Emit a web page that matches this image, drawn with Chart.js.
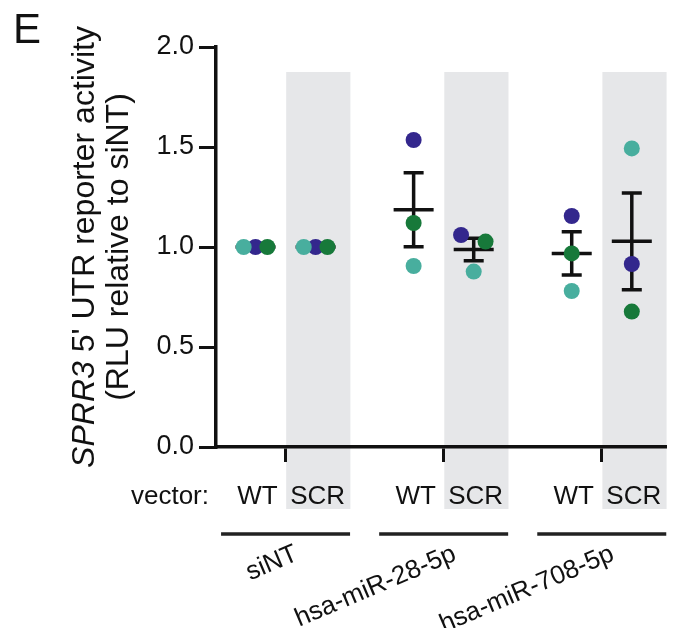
<!DOCTYPE html>
<html>
<head>
<meta charset="utf-8">
<script src="https://cdn.jsdelivr.net/npm/chart.js@4.4.0/dist/chart.umd.min.js"></script>
<style>
  html, body { margin: 0; padding: 0; background: #fff; }
  #wrap { width: 673px; height: 628px; }
</style>
</head>
<body>
<div id="wrap"><canvas id="chart" width="673" height="628"></canvas></div>
<script>
const groups = ['siNT', 'hsa-miR-28-5p', 'hsa-miR-708-5p'];
const vectors = ['WT', 'SCR'];
const yTicks = [0, 0.5, 1.0, 1.5, 2.0];

// one value per condition: siNT WT, siNT SCR, miR-28 WT, miR-28 SCR, miR-708 WT, miR-708 SCR
const rep1 = [1.00, 1.00, 0.905, 0.877, 0.78, 1.493];  // teal
const rep2 = [1.00, 1.00, 1.535, 1.06, 1.155, 0.915];  // purple
const rep3 = [1.00, 1.00, 1.12, 1.027, 0.968, 0.677];  // green

// sideways nudge for dots that would overlap (x units)
const nudge1 = [-0.075, -0.075, 0, 0, 0, 0];
const nudge2 = [0, 0, 0, -0.08, 0, 0];
const nudge3 = [0.075, 0.075, 0, 0.075, 0, 0];

const FONT = '"Liberation Sans", Arial, Helvetica, sans-serif';
const VEC_OFF = 0.19;
const INK = '#111';

function conditionX(i) {
  return Math.floor(i / 2) + (i % 2 ? VEC_OFF : -VEC_OFF);
}

function points(vals, nudge) {
  return vals.map((v, i) => ({ x: conditionX(i) + nudge[i], y: v }));
}

// mean +/- SEM of the three replicates
function stats(i) {
  const v = [rep1[i], rep2[i], rep3[i]];
  const m = v.reduce((a, b) => a + b, 0) / v.length;
  const sd = Math.sqrt(v.reduce((a, b) => a + (b - m) * (b - m), 0) / (v.length - 1));
  return { mean: m, sem: sd / Math.sqrt(v.length) };
}

const decor = {
  id: 'decor',
  beforeDraw(chart) {
    // grey bands behind the SCR columns
    const xs = chart.scales.x, ys = chart.scales.y, ctx = chart.ctx;
    ctx.save();
    ctx.fillStyle = '#e6e7e9';
    groups.forEach((g, gi) => {
      const x0 = xs.getPixelForValue(gi + 0.004);
      const x1 = xs.getPixelForValue(gi + 0.41);
      const y0 = ys.getPixelForValue(1.875);
      const y1 = chart.chartArea.bottom + 62;
      ctx.fillRect(x0, y0, x1 - x0, y1 - y0);
    });
    ctx.restore();
  },
  beforeDatasetsDraw(chart) {
    // mean and SEM bars
    const xs = chart.scales.x, ys = chart.scales.y, ctx = chart.ctx;
    ctx.save();
    ctx.strokeStyle = INK;
    ctx.lineWidth = 3.5;
    rep1.forEach((_, i) => {
      const s = stats(i);
      const cx = xs.getPixelForValue(conditionX(i));
      const ym = ys.getPixelForValue(s.mean);
      const yt = ys.getPixelForValue(s.mean + s.sem);
      const yb = ys.getPixelForValue(s.mean - s.sem);
      ctx.beginPath();
      ctx.moveTo(cx - 20, ym); ctx.lineTo(cx + 20, ym);
      ctx.moveTo(cx, yt); ctx.lineTo(cx, yb);
      ctx.moveTo(cx - 10, yt); ctx.lineTo(cx + 10, yt);
      ctx.moveTo(cx - 10, yb); ctx.lineTo(cx + 10, yb);
      ctx.stroke();
    });
    ctx.restore();
  },
  afterDraw(chart) {
    const xs = chart.scales.x, ctx = chart.ctx;
    const area = chart.chartArea;
    ctx.save();
    ctx.fillStyle = INK;

    // panel letter
    ctx.font = '42px ' + FONT;
    ctx.textAlign = 'left';
    ctx.textBaseline = 'alphabetic';
    ctx.fillText('E', 13, 43);

    // y title, first part italic
    const cy = (area.top + area.bottom) / 2;
    ctx.save();
    ctx.translate(94, cy);
    ctx.rotate(-Math.PI / 2);
    ctx.font = 'italic 32px ' + FONT;
    const w1 = ctx.measureText('SPRR3').width;
    ctx.font = '32px ' + FONT;
    const rest = " 5' UTR reporter activity";
    const w2 = ctx.measureText(rest).width;
    let sx = -(w1 + w2) / 2;
    ctx.font = 'italic 32px ' + FONT;
    ctx.fillText('SPRR3', sx, 0);
    ctx.font = '32px ' + FONT;
    ctx.fillText(rest, sx + w1, 0);
    ctx.restore();

    ctx.save();
    ctx.translate(128, cy);
    ctx.rotate(-Math.PI / 2);
    ctx.font = '32px ' + FONT;
    ctx.textAlign = 'center';
    ctx.fillText('(RLU relative to siNT)', 0, 0);
    ctx.restore();

    // vector row
    ctx.font = '26px ' + FONT;
    ctx.textBaseline = 'middle';
    ctx.textAlign = 'right';
    ctx.fillText('vector:', 209, 497);
    ctx.textAlign = 'center';
    rep1.forEach((_, i) => {
      ctx.fillText(vectors[i % 2], xs.getPixelForValue(conditionX(i)) + 2, 497);
    });

    // group underlines and rotated names
    ctx.strokeStyle = '#222';
    ctx.lineWidth = 3.5;
    groups.forEach((g, gi) => {
      const c = xs.getPixelForValue(gi);
      ctx.beginPath();
      ctx.moveTo(c - 64.5, 534);
      ctx.lineTo(c + 64.5, 534);
      ctx.stroke();

      ctx.save();
      ctx.translate(c + 6, 541);
      ctx.rotate(-23 * Math.PI / 180);
      ctx.font = '26px ' + FONT;
      ctx.textAlign = 'right';
      ctx.textBaseline = 'top';
      ctx.fillText(g, 0, 0);
      ctx.restore();
    });
    ctx.restore();
  }
};

const dotStyle = { pointRadius: 8, pointHoverRadius: 8, borderWidth: 0, showLine: false };

new Chart(document.getElementById('chart').getContext('2d'), {
  type: 'scatter',
  data: {
    datasets: [
      { ...dotStyle, label: 'rep1', data: points(rep1, nudge1), backgroundColor: '#48ae9e', order: 1 },
      { ...dotStyle, label: 'rep3', data: points(rep3, nudge3), backgroundColor: '#17793a', order: 2 },
      { ...dotStyle, label: 'rep2', data: points(rep2, nudge2), backgroundColor: '#33278d', order: 3 }
    ]
  },
  options: {
    responsive: false,
    animation: false,
    layout: { padding: { top: 47, right: 3, left: 0, bottom: 0 } },
    plugins: { legend: { display: false }, tooltip: { enabled: false } },
    scales: {
      x: {
        type: 'linear',
        min: -0.44,
        max: 2.4,
        afterBuildTicks: s => { s.ticks = groups.map((g, i) => ({ value: i })); },
        afterFit: s => { s.height = 181; },
        ticks: { display: false },
        grid: { drawOnChartArea: false, drawTicks: true, tickLength: 15, lineWidth: 3, color: INK },
        border: { display: true, width: 3.5, color: INK }
      },
      y: {
        min: 0,
        max: 2,
        afterBuildTicks: s => { s.ticks = yTicks.map(v => ({ value: v })); },
        afterFit: s => { s.width = 216; },
        ticks: { callback: v => v.toFixed(1), font: { family: FONT, size: 27 }, color: INK, padding: 5 },
        grid: { drawOnChartArea: false, drawTicks: true, tickLength: 17, lineWidth: 3, color: INK },
        border: { display: true, width: 3.5, color: INK }
      }
    }
  },
  plugins: [decor]
});
</script>
</body>
</html>
